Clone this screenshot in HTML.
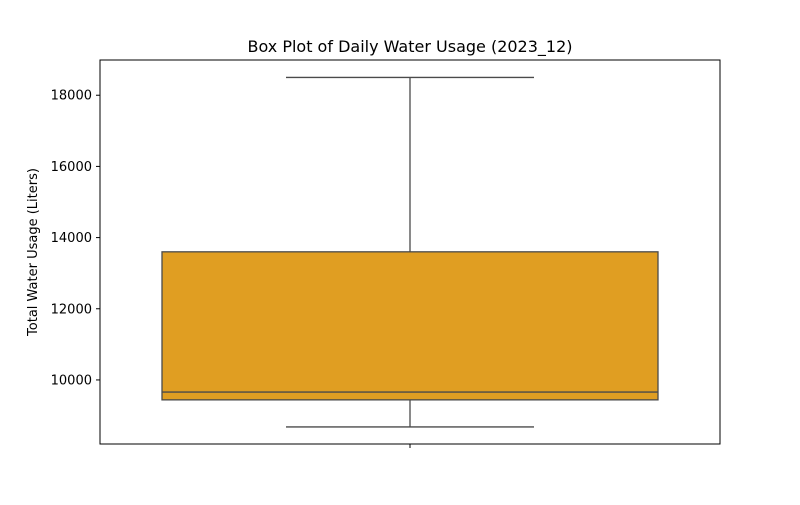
<!DOCTYPE html>
<html><head><meta charset="utf-8"><style>
body{margin:0;background:#fff;}
svg text{font-family:"DejaVu Sans","Liberation Sans",sans-serif;fill:#000;}
</style></head><body>
<svg id="chart" width="800" height="500">
<rect width="800" height="500" fill="#fff"/>
<text x="410" y="52" text-anchor="middle" font-size="16">Box Plot of Daily Water Usage (2023_12)</text>
<text transform="translate(37,252) rotate(-90)" text-anchor="middle" font-size="13">Total Water Usage (Liters)</text>
<g id="ticks"></g>
<g id="box"></g>
<rect x="100" y="60" width="620" height="384" fill="none" stroke="#000" stroke-width="1"/>
</svg>
<script>
const yTicks=[10000,12000,14000,16000,18000];
const stats=[8680,9440,9660,13600,18500]; // min,q1,median,q3,max
const categories=[""];
const yMin=8200,yMax=18990;
const L=100,R=720,T=60,B=444;
const y=v=>B-(v-yMin)/(yMax-yMin)*(B-T);
const ns="http://www.w3.org/2000/svg";
function mk(tag,attrs,parent){const e=document.createElementNS(ns,tag);for(const k in attrs)e.setAttribute(k,attrs[k]);parent.appendChild(e);return e;}
const tg=document.getElementById('ticks');
yTicks.forEach(t=>{
 const l=mk('line',{x1:L-4,x2:L,y1:y(t),y2:y(t),stroke:'#000'},tg);
 
 
 const tx=mk('text',{x:L-8,y:y(t)+4.5,'text-anchor':'end','font-size':13},tg);
 tx.textContent=t;
 
 
});
const cx=410;
const xt=mk('line',{x1:cx,x2:cx,y1:B,y2:B+4,stroke:'#000'},tg);


const bg=document.getElementById('box');
const c='#4a4a4a';
const [mn,q1,md,q3,mx]=stats;
const w1=mk('line',{x1:cx,x2:cx,y1:y(mx),y2:y(q3),stroke:c,'stroke-width':1.3},bg);


const w2=mk('line',{x1:cx,x2:cx,y1:y(q1),y2:y(mn),stroke:c,'stroke-width':1.3},bg);


const c1=mk('line',{x1:286,x2:534,y1:y(mx),y2:y(mx),stroke:c,'stroke-width':1.3},bg);


const c2=mk('line',{x1:286,x2:534,y1:y(mn),y2:y(mn),stroke:c,'stroke-width':1.3},bg);


const bx=mk('rect',{x:162,y:y(q3),width:496,height:y(q1)-y(q3),fill:'#e09e22',stroke:c,'stroke-width':1.3},bg);


const m=mk('line',{x1:162,x2:658,y1:y(md),y2:y(md),stroke:c,'stroke-width':1.3},bg);


</script>
</body></html>
